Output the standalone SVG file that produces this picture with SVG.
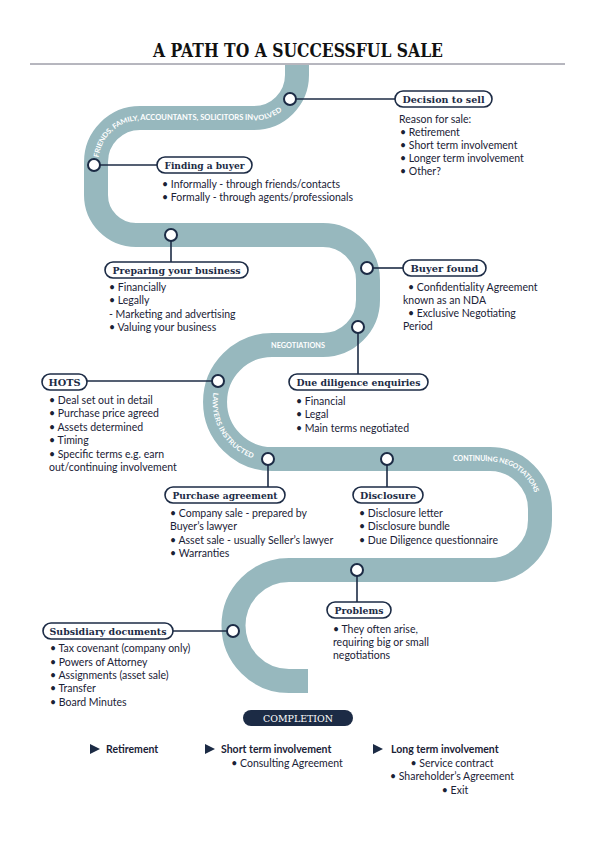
<svg xmlns="http://www.w3.org/2000/svg" xmlns:xlink="http://www.w3.org/1999/xlink" width="596" height="842" viewBox="0 0 596 842">
<defs>
<style>
.road{fill:none;stroke:#97b8be;stroke-width:24;stroke-linecap:butt;stroke-linejoin:round}
.rt{font-family:Lato,"Liberation Sans",sans-serif;font-weight:bold;font-size:7px;fill:#ffffff}
.pill{fill:#ffffff;stroke:#1c2b45;stroke-width:1.6}
.lbl{font-family:"DejaVu Serif","Liberation Serif",serif;font-weight:bold;font-size:10px;fill:#1c2b45;text-anchor:middle}
.body{font-family:Lato,"Liberation Sans",sans-serif;font-size:10.5px;fill:#1a2236}
.bold{font-weight:bold}
.mid{text-anchor:middle}
.dot{fill:#ffffff;stroke:#1c2b45;stroke-width:2}
.ln{stroke:#1c2b45;stroke-width:1.6;fill:none}
</style>
<path id="p1" d="M96,165 L96,162 A44,44 0 0 1 140,118 L254,118 A43,43 0 0 0 297,75"/>
<path id="p2" d="M272,345 A57,57 0 0 0 272,459"/>
<path id="p3" d="M420,459 L490,459 A50,50 0 0 1 540,509"/>
</defs>
<rect width="596" height="842" fill="#ffffff"/>

<g id="title">
<text x="298" y="57" font-family="DejaVu Serif, Liberation Serif, serif" font-weight="bold" font-size="19" fill="#111111" text-anchor="middle" textLength="290" lengthAdjust="spacingAndGlyphs">A PATH TO A SUCCESSFUL SALE</text>
<line x1="30" y1="64" x2="565" y2="64" stroke="#6e6e7e" stroke-width="1"/>
</g>

<g id="road">
<path class="road" d="M297,65 L297,75 A43,43 0 0 1 254,118 L140,118 A44,44 0 0 0 96,162 L96,195 A40,40 0 0 0 136,235 L323,235 A45,45 0 0 1 368,280 L368,300 A45,45 0 0 1 323,345 L272,345 A57,57 0 0 0 272,459 L490,459 A50,50 0 0 1 540,509 L540,520 A50,50 0 0 1 490,570 L289,570 A55.5,55.5 0 0 0 289,681 L308,681"/>
<text class="rt" dy="2.4"><textPath xlink:href="#p1" href="#p1" startOffset="8" textLength="207" lengthAdjust="spacingAndGlyphs">FRIENDS, FAMILY, ACCOUNTANTS, SOLICITORS INVOLVED</textPath></text>
<text class="rt" x="298" y="348" text-anchor="middle" textLength="54" lengthAdjust="spacingAndGlyphs">NEGOTIATIONS</text>
<text class="rt" dy="2.4"><textPath xlink:href="#p2" href="#p2" startOffset="80" textLength="80" lengthAdjust="spacingAndGlyphs">LAWYERS INSTRUCTED</textPath></text>
<text class="rt" dy="2.4"><textPath xlink:href="#p3" href="#p3" startOffset="33" textLength="98" lengthAdjust="spacingAndGlyphs">CONTINUING NEGOTIATIONS</textPath></text>
</g>

<g id="connectors">
<line class="ln" x1="296" y1="99" x2="395" y2="99"/>
<line class="ln" x1="100" y1="165" x2="157" y2="165"/>
<line class="ln" x1="171" y1="241" x2="171" y2="262"/>
<line class="ln" x1="373" y1="268" x2="403" y2="268"/>
<line class="ln" x1="358" y1="333" x2="358" y2="374"/>
<line class="ln" x1="87" y1="381" x2="212" y2="381"/>
<line class="ln" x1="268" y1="465" x2="268" y2="487"/>
<line class="ln" x1="387" y1="465" x2="387" y2="487"/>
<line class="ln" x1="357" y1="576" x2="357" y2="602"/>
<line class="ln" x1="173" y1="631" x2="227" y2="631"/>
<circle class="dot" cx="290" cy="99" r="6"/>
<circle class="dot" cx="94" cy="165" r="6"/>
<circle class="dot" cx="171" cy="235" r="6"/>
<circle class="dot" cx="367" cy="268" r="6"/>
<circle class="dot" cx="358" cy="327" r="6"/>
<circle class="dot" cx="218" cy="381" r="6"/>
<circle class="dot" cx="268" cy="459" r="6"/>
<circle class="dot" cx="387" cy="459" r="6"/>
<circle class="dot" cx="357" cy="570" r="6"/>
<circle class="dot" cx="233" cy="631" r="6"/>
</g>

<g id="decision">
<rect class="pill" x="395" y="91" width="97" height="16" rx="8"/>
<text class="lbl" x="443.5" y="102.5" textLength="82" lengthAdjust="spacingAndGlyphs">Decision to sell</text>
<text class="body" x="399" y="123">Reason for sale:</text>
<text class="body" x="400" y="136">• Retirement</text>
<text class="body" x="400" y="149">• Short term involvement</text>
<text class="body" x="400" y="162">• Longer term involvement</text>
<text class="body" x="400" y="175">• Other?</text>
</g>

<g id="finding">
<rect class="pill" x="157" y="157" width="95" height="16" rx="8"/>
<text class="lbl" x="204.5" y="168.5" textLength="80" lengthAdjust="spacingAndGlyphs">Finding a buyer</text>
<text class="body" x="162" y="188">• Informally - through friends/contacts</text>
<text class="body" x="162" y="201">• Formally - through agents/professionals</text>
</g>

<g id="preparing">
<rect class="pill" x="105" y="262" width="143" height="16" rx="8"/>
<text class="lbl" x="176.5" y="273.5" textLength="128" lengthAdjust="spacingAndGlyphs">Preparing your business</text>
<text class="body" x="109" y="291">• Financially</text>
<text class="body" x="109" y="304">• Legally</text>
<text class="body" x="109" y="318">- Marketing and advertising</text>
<text class="body" x="109" y="331">• Valuing your business</text>
</g>

<g id="buyerfound">
<rect class="pill" x="403" y="260" width="83" height="16" rx="8"/>
<text class="lbl" x="444.5" y="271.5" textLength="68" lengthAdjust="spacingAndGlyphs">Buyer found</text>
<text class="body" x="408" y="291">• Confidentiality Agreement</text>
<text class="body" x="403" y="304">known as an NDA</text>
<text class="body" x="408" y="317" font-size="9.5">• Exclusive Negotiating</text>
<text class="body" x="403" y="330">Period</text>
</g>

<g id="hots">
<rect class="pill" x="42" y="374" width="45" height="16" rx="8"/>
<text class="lbl" x="64.5" y="385.5" textLength="32" lengthAdjust="spacingAndGlyphs">HOTS</text>
<text class="body" x="49" y="404">• Deal set out in detail</text>
<text class="body" x="49" y="417">• Purchase price agreed</text>
<text class="body" x="49" y="431">• Assets determined</text>
<text class="body" x="49" y="444">• Timing</text>
<text class="body" x="49" y="458">• Specific terms e.g. earn</text>
<text class="body" x="49" y="471">out/continuing involvement</text>
</g>

<g id="duediligence">
<rect class="pill" x="289" y="374" width="139" height="16" rx="8"/>
<text class="lbl" x="358.5" y="385.5" textLength="124" lengthAdjust="spacingAndGlyphs">Due diligence enquiries</text>
<text class="body" x="296" y="405">• Financial</text>
<text class="body" x="296" y="418">• Legal</text>
<text class="body" x="296" y="432">• Main terms negotiated</text>
</g>

<g id="purchase">
<rect class="pill" x="165" y="487" width="120" height="16" rx="8"/>
<text class="lbl" x="225" y="498.5" textLength="105" lengthAdjust="spacingAndGlyphs">Purchase agreement</text>
<text class="body" x="170" y="517">• Company sale - prepared by</text>
<text class="body" x="170" y="530">Buyer’s lawyer</text>
<text class="body" x="170" y="544">• Asset sale - usually Seller’s lawyer</text>
<text class="body" x="170" y="557">• Warranties</text>
</g>

<g id="disclosure">
<rect class="pill" x="353" y="487" width="70" height="16" rx="8"/>
<text class="lbl" x="388" y="498.5" textLength="56" lengthAdjust="spacingAndGlyphs">Disclosure</text>
<text class="body" x="359" y="517">• Disclosure letter</text>
<text class="body" x="359" y="530">• Disclosure bundle</text>
<text class="body" x="359" y="544">• Due Diligence questionnaire</text>
</g>

<g id="problems">
<rect class="pill" x="327" y="602" width="64" height="16" rx="8"/>
<text class="lbl" x="359" y="613.5" textLength="49" lengthAdjust="spacingAndGlyphs">Problems</text>
<text class="body" x="333" y="633">• They often arise,</text>
<text class="body" x="333" y="646">requiring big or small</text>
<text class="body" x="333" y="659">negotiations</text>
</g>

<g id="subsidiary">
<rect class="pill" x="43" y="623" width="130" height="16" rx="8"/>
<text class="lbl" x="108" y="634.5" textLength="117" lengthAdjust="spacingAndGlyphs">Subsidiary documents</text>
<text class="body" x="50" y="652">• Tax covenant (company only)</text>
<text class="body" x="50" y="666">• Powers of Attorney</text>
<text class="body" x="50" y="679">• Assignments (asset sale)</text>
<text class="body" x="50" y="692">• Transfer</text>
<text class="body" x="50" y="706">• Board Minutes</text>
</g>

<g id="completion">
<rect x="243" y="710" width="110" height="16" rx="8" fill="#1c2b45"/>
<text x="298" y="722" font-family="DejaVu Serif, Liberation Serif, serif" font-size="10" fill="#ffffff" text-anchor="middle" textLength="70" lengthAdjust="spacingAndGlyphs">COMPLETION</text>
</g>

<g id="outcomes">
<polygon points="90,744 100,749 90,754" fill="#1c2b45"/>
<text class="body bold" x="106" y="753">Retirement</text>
<polygon points="205,744 215,749 205,754" fill="#1c2b45"/>
<text class="body bold" x="221" y="753">Short term involvement</text>
<text class="body mid" x="287" y="767">• Consulting Agreement</text>
<polygon points="373,744 383,749 373,754" fill="#1c2b45"/>
<text class="body bold" x="391" y="753">Long term involvement</text>
<text class="body mid" x="452" y="767">• Service contract</text>
<text class="body mid" x="452" y="780">• Shareholder’s Agreement</text>
<text class="body mid" x="455" y="794">• Exit</text>
</g>
</svg>
